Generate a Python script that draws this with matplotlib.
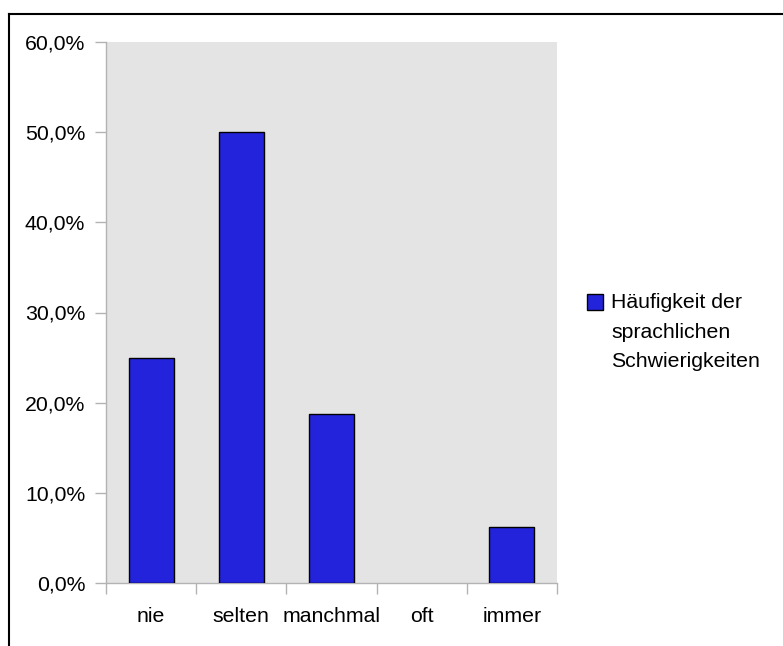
import matplotlib.pyplot as plt
from matplotlib.lines import Line2D
from matplotlib.patches import Rectangle
from matplotlib.legend_handler import HandlerPatch
from matplotlib.ticker import FuncFormatter

# data
categories = ["nie", "selten", "manchmal", "oft", "immer"]
values = [25.0, 50.0, 18.75, 0.0, 6.25]
series_label = "Häufigkeit der\nsprachlichen\nSchwierigkeiten"

plt.rcParams['font.family'] = ['Liberation Sans', 'DejaVu Sans']
fs = 15.3
line_sp = 1.68

fig = plt.figure(figsize=(7.83, 6.46), dpi=100)
ax = fig.add_axes([106 / 783, 1 - 583 / 646, 451 / 783, 541 / 646])
ax.set_facecolor("#e4e4e4")

x = list(range(len(categories)))
bars = ax.bar(x, values, width=0.5, color="#2323dc", edgecolor="black",
              linewidth=1, zorder=3)
# empty categories get no outline
for b, v in zip(bars, values):
    if v == 0:
        b.set_linewidth(0)

ax.set_xlim(-0.5, len(categories) - 0.5)
ax.set_ylim(0, 60)

# y axis
ax.set_yticks(range(0, 61, 10))
ax.yaxis.set_major_formatter(FuncFormatter(lambda v, p: f"{v:.1f}%".replace(".", ",")))
ax.tick_params(axis="y", length=8, width=1, color="#b3b3b3", pad=7, labelsize=fs)

# x axis: ticks at boundaries, labels at centers
ax.set_xticks([i - 0.5 for i in range(len(categories) + 1)])
ax.set_xticklabels([])
ax.set_xticks(x, minor=True)
ax.set_xticklabels(categories, minor=True)
ax.tick_params(axis="x", which="major", length=8, width=1, color="#b3b3b3")
ax.tick_params(axis="x", which="minor", length=0, pad=17, labelsize=fs)

for s in ["top", "right"]:
    ax.spines[s].set_visible(False)
for s in ["left", "bottom"]:
    ax.spines[s].set_color("#b3b3b3")
    ax.spines[s].set_linewidth(1)


# legend square sits beside the first line of the label
def top_square(legend, orig_handle, xdescent, ydescent, width, height, fontsize):
    shift = 30 * 0.72  # one text line, in points
    return Rectangle((-xdescent, -ydescent + shift), width, height)


leg = ax.legend([bars[0]], [series_label], loc="center left",
                bbox_to_anchor=(587 / 783, 1 - 332 / 646),
                bbox_transform=fig.transFigure, frameon=False, fontsize=fs,
                handlelength=0.75, handleheight=0.75, handletextpad=0.4,
                borderpad=0, borderaxespad=0,
                handler_map={Rectangle: HandlerPatch(patch_func=top_square)})
leg.texts[0].set_linespacing(line_sp)

# outer frame (top and left)
fig.add_artist(Line2D([9 / 783, 9 / 783], [0, 1 - 14 / 646], color="black",
                      linewidth=1.5, transform=fig.transFigure))
fig.add_artist(Line2D([9 / 783, 1], [1 - 14 / 646, 1 - 14 / 646], color="black",
                      linewidth=1.5, transform=fig.transFigure))

fig.savefig("out.png", dpi=100)
